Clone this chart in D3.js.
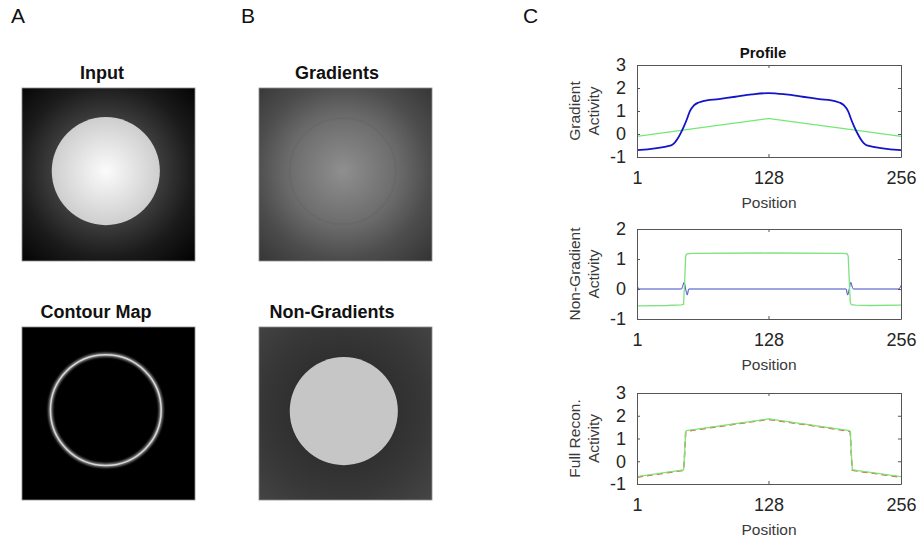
<!DOCTYPE html>
<html>
<head>
<meta charset="utf-8">
<script src="https://cdn.jsdelivr.net/npm/d3@7"></script>
<style>
  body { margin: 0; background: #fff; }
  svg { display: block; font-family: "Liberation Sans", Arial, Helvetica, sans-serif; }
</style>
</head>
<body>
<svg id="fig" width="918" height="541"></svg>
<script>
// ---- profile data (position along middle row, 1..256) ----
const xTicks = [1, 128, 256];

// Gradient activity
const gradBluePos = [1, 34, 37, 40, 43, 46, 49, 52, 56, 60, 64, 80, 96, 112, 128, 145, 161, 177, 193, 197, 201, 205, 208, 211, 214, 217, 220, 223, 256];
const gradBlueVal = [-0.70, -0.49, -0.40, -0.22, 0.02, 0.30, 0.62, 0.98, 1.24, 1.36, 1.42, 1.52, 1.62, 1.72, 1.78, 1.72, 1.62, 1.52, 1.42, 1.36, 1.24, 0.98, 0.62, 0.30, 0.02, -0.22, -0.40, -0.49, -0.70];
const gradGreenPos = [1, 47, 128, 129, 210, 256];
const gradGreenVal = [-0.10, 0.18, 0.67, 0.67, 0.18, -0.10];

// Non-gradient activity
const nonGreenPos = [1, 30, 44, 46, 47, 48, 49, 55, 128, 200, 204, 205, 206, 207, 208, 212, 226, 256];
const nonGreenVal = [-0.56, -0.55, -0.53, -0.51, 0.20, 1.10, 1.17, 1.19, 1.20, 1.19, 1.17, 1.10, 0.30, -0.45, -0.52, -0.54, -0.55, -0.54];
const nonBluePos = [1, 2, 3, 44, 45, 46.5, 48, 49.5, 51, 203, 204.5, 206, 207.5, 209, 210, 254, 255, 256];
const nonBlueVal = [0.12, 0.04, 0.0, 0.0, 0.08, 0.22, 0.0, -0.20, 0.0, 0.0, -0.20, 0.0, 0.22, 0.06, 0.0, 0.0, 0.04, 0.12];

// Full reconstruction vs input
const inputPos = [1, 46, 47, 48, 49, 88, 128, 168, 206, 207, 208, 209, 256];
const inputVal = [-0.70, -0.40, 0.30, 1.28, 1.32, 1.58, 1.84, 1.58, 1.32, 1.28, 0.30, -0.40, -0.70];
const reconPos = [1, 46, 47, 48, 49, 88, 128, 168, 206, 207, 208, 209, 256];
const reconVal = [-0.68, -0.38, 0.35, 1.30, 1.35, 1.60, 1.86, 1.60, 1.35, 1.30, 0.35, -0.38, -0.68];

// ---- image panels (grayscale maps, 256x256 native pixels) ----
const imageTitles = ["Input", "Gradients", "Contour Map", "Non-Gradients"];
const diskCenter = [124, 123];
const diskRadius = 80;

const fontFam = '"Liberation Sans", Arial, Helvetica, sans-serif';
const ink = "#262626";
const svg = d3.select("#fig");
const defs = svg.append("defs");

// panel letters
svg.selectAll(".panel-letter")
  .data([["A", 11], ["B", 241], ["C", 523]])
  .join("text")
  .attr("class", "panel-letter")
  .attr("x", (d) => d[1])
  .attr("y", 23)
  .attr("font-size", 21)
  .attr("fill", "#111")
  .text((d) => d[0]);

// ---------- images ----------
const imgSize = 173;
const px = d3.scaleLinear().domain([0, 256]).range([0, imgSize]);
const imgSlots = [
  { x: 22, y: 88, tx: 102, ty: 79 },
  { x: 259, y: 88, tx: 337, ty: 79 },
  { x: 22, y: 327, tx: 96, ty: 318 },
  { x: 259, y: 327, tx: 332, ty: 318 },
];

function radial(id, stops) {
  const g = defs.append("radialGradient")
    .attr("id", id)
    .attr("gradientUnits", "userSpaceOnUse")
    .attr("cx", px(diskCenter[0]))
    .attr("cy", px(diskCenter[1]))
    .attr("r", px(190));
  g.selectAll("stop")
    .data(stops)
    .join("stop")
    .attr("offset", (d) => d[0] / 190)
    .attr("stop-color", (d) => d[1]);
  return `url(#${id})`;
}

const inputBg = radial("inBg", [[0, "#404040"], [80, "#3c3c3c"], [128, "#1b1b1b"], [190, "#000"]]);
const inputDisk = radial("inDisk", [[0, "#fbfbfb"], [80, "#cecece"], [190, "#cecece"]]);
const gradBg = radial("grBg", [[0, "#8f8f8f"], [80, "#6c6c6c"], [128, "#4d4d4d"], [190, "#323232"]]);
const nonBg = radial("ngBg", [[0, "#2e2e2e"], [80, "#303030"], [128, "#383838"], [190, "#464646"]]);

defs.append("filter").attr("id", "soft")
  .append("feGaussianBlur").attr("stdDeviation", 0.7);
defs.append("filter").attr("id", "glow")
  .append("feGaussianBlur").attr("stdDeviation", 1.1);

imageTitles.forEach((title, i) => {
  const s = imgSlots[i];
  const g = svg.append("g").attr("transform", `translate(${s.x},${s.y})`);
  const cx = px(diskCenter[0]), cy = px(diskCenter[1]), r = px(diskRadius);
  const clipId = `imgclip${i}`;
  defs.append("clipPath").attr("id", clipId)
    .append("rect").attr("width", imgSize).attr("height", imgSize);
  const inner = g.append("g").attr("clip-path", `url(#${clipId})`);

  if (i === 0) {
    inner.append("rect").attr("width", imgSize).attr("height", imgSize).attr("fill", inputBg);
    inner.append("circle").attr("cx", cx).attr("cy", cy).attr("r", r).attr("fill", inputDisk);
  } else if (i === 1) {
    inner.append("rect").attr("width", imgSize).attr("height", imgSize).attr("fill", gradBg);
    inner.append("circle").attr("cx", cx).attr("cy", cy).attr("r", r - 1)
      .attr("fill", "none").attr("stroke", "rgba(0,0,0,0.035)").attr("stroke-width", 2.5)
      .attr("filter", "url(#soft)");
  } else if (i === 2) {
    inner.append("rect").attr("width", imgSize).attr("height", imgSize).attr("fill", "#000");
    inner.append("circle").attr("cx", cx).attr("cy", cy).attr("r", r + 1.3)
      .attr("fill", "none").attr("stroke", "#8a8a8a").attr("stroke-width", 4.2)
      .attr("filter", "url(#glow)");
    inner.append("circle").attr("cx", cx).attr("cy", cy).attr("r", r + 1.3)
      .attr("fill", "none").attr("stroke", "#d6d6d6").attr("stroke-width", 1.5)
      .attr("filter", "url(#soft)");
  } else {
    inner.append("rect").attr("width", imgSize).attr("height", imgSize).attr("fill", nonBg);
    inner.append("circle").attr("cx", cx + 1).attr("cy", cy + 1).attr("r", r).attr("fill", "#c6c6c6");
  }
  g.append("rect").attr("width", imgSize).attr("height", imgSize)
    .attr("fill", "none").attr("stroke", "#8c8c8c").attr("stroke-width", 0.8);

  svg.append("text")
    .attr("x", s.tx).attr("y", s.ty)
    .attr("text-anchor", "middle")
    .attr("font-size", 18).attr("font-weight", "bold").attr("fill", "#111")
    .text(title);
});

// ---------- profile plots ----------
const plotX0 = 637, plotX1 = 901;
const x = d3.scaleLinear().domain([1, 256]).range([plotX0, plotX1]);

const plots = [
  {
    top: 65, bottom: 157, domain: [-1, 3], ticks: [-1, 0, 1, 2, 3],
    ylabel: ["Gradient", "Activity"],
    series: [
      { pos: gradGreenPos, val: gradGreenVal, color: "#74e874", width: 1.2 },
      { pos: gradBluePos, val: gradBlueVal, color: "#1414c8", width: 1.8, curve: d3.curveMonotoneX },
    ],
  },
  {
    top: 229, bottom: 319, domain: [-1, 2], ticks: [-1, 0, 1, 2],
    ylabel: ["Non-Gradient", "Activity"],
    series: [
      { pos: nonBluePos, val: nonBlueVal, color: "#3a48c4", width: 1, curve: d3.curveMonotoneX },
      { pos: nonGreenPos, val: nonGreenVal, color: "#7ee27e", width: 1.3 },
    ],
  },
  {
    top: 393, bottom: 484, domain: [-1, 3], ticks: [-1, 0, 1, 2, 3],
    ylabel: ["Full Recon.", "Activity"],
    series: [
      { pos: inputPos, val: inputVal, color: "#e2582e", width: 1.5, dash: "6,4" },
      { pos: reconPos, val: reconVal, color: "#7ce47c", width: 1.3 },
    ],
  },
];

plots.forEach((p, k) => {
  const y = d3.scaleLinear().domain(p.domain).range([p.bottom, p.top]);
  const g = svg.append("g");

  const clipId = `plotclip${k}`;
  defs.append("clipPath").attr("id", clipId)
    .append("rect")
    .attr("x", plotX0).attr("y", p.top)
    .attr("width", plotX1 - plotX0).attr("height", p.bottom - p.top);

  const lines = g.append("g").attr("clip-path", `url(#${clipId})`);
  p.series.forEach((s) => {
    const line = d3.line()
      .x((d) => x(d[0]))
      .y((d) => y(d[1]))
      .curve(s.curve || d3.curveLinear);
    lines.append("path")
      .attr("d", line(d3.zip(s.pos, s.val)))
      .attr("fill", "none")
      .attr("stroke", s.color)
      .attr("stroke-width", s.width)
      .attr("stroke-dasharray", s.dash || null)
      .attr("stroke-linejoin", "round");
  });

  const styleAxis = (a) => {
    a.selectAll("path").attr("stroke", "#555").attr("stroke-width", 1);
    a.selectAll("line").attr("stroke", "#555");
    a.selectAll("text").attr("font-size", 18).attr("fill", ink).attr("font-family", fontFam);
  };
  const fmt = (d) => String(d).replace("-", "-");

  g.append("g").attr("transform", `translate(${plotX0},0)`)
    .call(d3.axisLeft(y).tickValues(p.ticks).tickFormat(fmt).tickSizeInner(-3).tickSizeOuter(0).tickPadding(11))
    .call(styleAxis);
  g.append("g").attr("transform", `translate(${plotX1},0)`)
    .call(d3.axisRight(y).tickValues(p.ticks).tickSizeInner(-3).tickSizeOuter(0).tickFormat(""))
    .call(styleAxis);
  g.append("g").attr("transform", `translate(0,${p.bottom})`)
    .call(d3.axisBottom(x).tickValues(xTicks).tickFormat(fmt).tickSizeInner(-3).tickSizeOuter(0).tickPadding(14))
    .call(styleAxis);
  g.append("g").attr("transform", `translate(0,${p.top})`)
    .call(d3.axisTop(x).tickValues(xTicks).tickSizeInner(-3).tickSizeOuter(0).tickFormat(""))
    .call(styleAxis);

  g.append("text")
    .attr("x", (plotX0 + plotX1) / 2)
    .attr("y", p.bottom + 51)
    .attr("text-anchor", "middle")
    .attr("font-size", 15.5)
    .attr("fill", "#3a3a3a")
    .text("Position");

  const yMid = (p.top + p.bottom) / 2;
  g.append("text")
    .attr("transform", `translate(580,${yMid}) rotate(-90)`)
    .attr("text-anchor", "middle")
    .attr("font-size", 15.5)
    .attr("fill", "#3a3a3a")
    .selectAll("tspan")
    .data(p.ylabel)
    .join("tspan")
    .attr("x", 0)
    .attr("dy", (d, i) => (i ? 19 : 0))
    .text((d) => d);

  if (k === 0) {
    g.append("text")
      .attr("x", 763)
      .attr("y", 58)
      .attr("text-anchor", "middle")
      .attr("font-size", 15)
      .attr("font-weight", "bold")
      .attr("fill", "#111")
      .text("Profile");
  }
});
</script>
</body>
</html>
